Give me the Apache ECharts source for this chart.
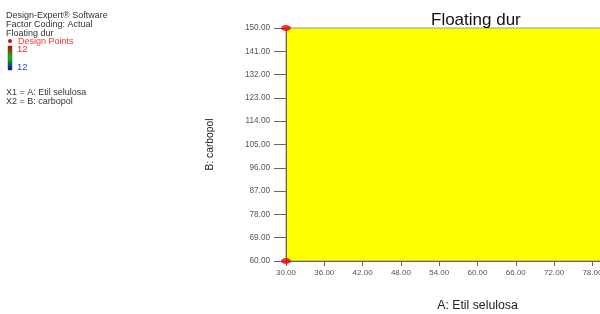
<!DOCTYPE html>
<html>
<head>
<meta charset="utf-8">
<script src="https://cdn.jsdelivr.net/npm/echarts@6/dist/echarts.min.js"></script>
<style>
  html, body { margin: 0; padding: 0; background: #fff; }
  #chart { width: 600px; height: 314px; }
</style>
</head>
<body>
<div id="chart"></div>
<script>
// factor ranges (A: Etil selulosa, B: carbopol)
const xRange = [30, 90]
const yRange = [60, 150]
const xStep = 6
const yStep = 9
// design points seen in the picture
const designPoints = [[30, 60], [30, 150]]
// response range shown on the colour key
const responseRange = [12, 12]
const legendLines = ['Design-Expert® Software', 'Factor Coding: Actual', 'Floating dur']
const factorLines = ['X1 = A: Etil selulosa', 'X2 = B: carbopol']

const chart = echarts.init(document.getElementById('chart'))

const font = 'Arial, Liberation Sans, sans-serif'
const smallText = { fontFamily: font, fontSize: 9, fill: '#333' }

const option = {
  animation: false,
  title: {
    text: 'Floating dur',
    left: 426, top: 7,
    textStyle: { fontFamily: font, fontSize: 17, fontWeight: 'normal', color: '#111' }
  },
  grid: {
    left: 286, top: 28, bottom: 53, width: 383,
    outerBoundsMode: 'none',
    show: true, backgroundColor: '#ffff00', borderColor: '#999', borderWidth: 1
  },
  xAxis: {
    type: 'value', min: xRange[0], max: xRange[1], interval: xStep,
    name: 'A: Etil selulosa', nameLocation: 'middle', nameGap: 39,
    nameTextStyle: { fontFamily: font, fontSize: 12.3, color: '#222' },
    axisLine: { show: true, onZero: false, lineStyle: { color: '#666' } },
    axisTick: { show: true, length: 5, lineStyle: { color: '#666' } },
    axisLabel: { fontFamily: font, fontSize: 8, color: '#555', margin: 8, formatter: v => v.toFixed(2) },
    splitLine: { show: false }
  },
  yAxis: {
    type: 'value', min: yRange[0], max: yRange[1], interval: yStep,
    name: 'B: carbopol', nameLocation: 'middle', nameGap: 71,
    nameTextStyle: { fontFamily: font, fontSize: 10.3, color: '#222' },
    axisLine: { show: true, onZero: false, lineStyle: { color: '#666' } },
    axisTick: { show: true, length: 12, lineStyle: { color: '#666' } },
    axisLabel: { fontFamily: font, fontSize: 8.2, color: '#555', margin: 16, formatter: v => v.toFixed(2) },
    splitLine: { show: false }
  },
  series: [{
    type: 'scatter',
    data: designPoints,
    symbol: 'circle',
    symbolSize: [10, 6],
    itemStyle: { color: '#ee0000' },
    clip: false,
    z: 5
  }],
  graphic: [
    ...legendLines.map((t, i) => ({
      type: 'text', left: 6, top: 11 + i * 8.8, style: { ...smallText, text: t }
    })),
    { type: 'circle', shape: { cx: 10, cy: 41, r: 2 }, style: { fill: '#ee0000' } },
    { type: 'text', left: 18, top: 37, style: { ...smallText, fill: '#ff3333', text: 'Design Points' } },
    {
      type: 'rect', shape: { x: 8, y: 46, width: 4, height: 24 },
      style: {
        fill: new echarts.graphic.LinearGradient(0, 0, 0, 1, [
          { offset: 0, color: '#cc0000' },
          { offset: 0.5, color: '#00cc00' },
          { offset: 1, color: '#0000cc' }
        ]),
        stroke: '#444', lineWidth: 0.5
      }
    },
    { type: 'text', left: 17, top: 44, style: { ...smallText, fontSize: 9.5, fill: '#ff2222', text: String(responseRange[1]) } },
    { type: 'text', left: 17, top: 62, style: { ...smallText, fontSize: 9.5, fill: '#3333ff', text: String(responseRange[0]) } },
    ...factorLines.map((t, i) => ({
      type: 'text', left: 6, top: 88.5 + i * 8.5, style: { ...smallText, text: t }
    }))
  ]
}

chart.setOption(option)
</script>
</body>
</html>
